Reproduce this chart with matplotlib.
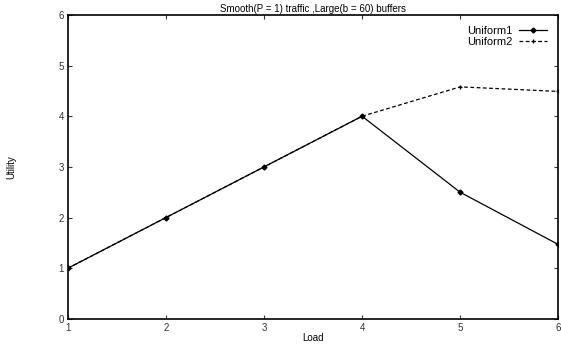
import matplotlib
matplotlib.use("Agg")
import matplotlib.pyplot as plt

load = [1, 2, 3, 4, 5, 6]
uniform1 = [1, 2, 3, 4, 2.5, 1.47]
uniform2 = [1, 2, 3, 4, 4.58, 4.49]

plt.rcParams["font.family"] = ["Liberation Sans", "DejaVu Sans"]
plt.rcParams["font.size"] = 7

fig = plt.figure(figsize=(5.61, 3.47), dpi=100)
ax = fig.add_axes([0.121, 0.081, 0.874, 0.876])

ax.plot(load, uniform1, color="black", lw=0.9, marker="D", ms=2.5, label="Uniform1")
ax.plot(load, uniform2, color="black", lw=0.9, ls=(0, (3, 2)), marker="+", ms=3.5,
        mew=0.9, label="Uniform2")

ax.set_xlim(1, 6)
ax.set_ylim(0, 6)
ax.set_xticks(load)
ax.set_yticks(range(0, 7))
ax.tick_params(direction="in", top=True, right=True, length=3, width=0.8, pad=3,
               colors="#333333")
for s in ax.spines.values():
    s.set_linewidth(1.2)

ax.set_title("Smooth(P = 1) traffic ,Large(b = 60) buffers", fontsize=7, pad=2)
ax.set_xlabel("Load", labelpad=0)
ax.set_ylabel("Utility", labelpad=30)

ax.legend(loc="upper right", frameon=False, markerfirst=False, handlelength=2.5,
          fontsize=8, labelspacing=0.05, borderaxespad=0.6, handletextpad=0.6)

fig.savefig("out.png", dpi=100)
